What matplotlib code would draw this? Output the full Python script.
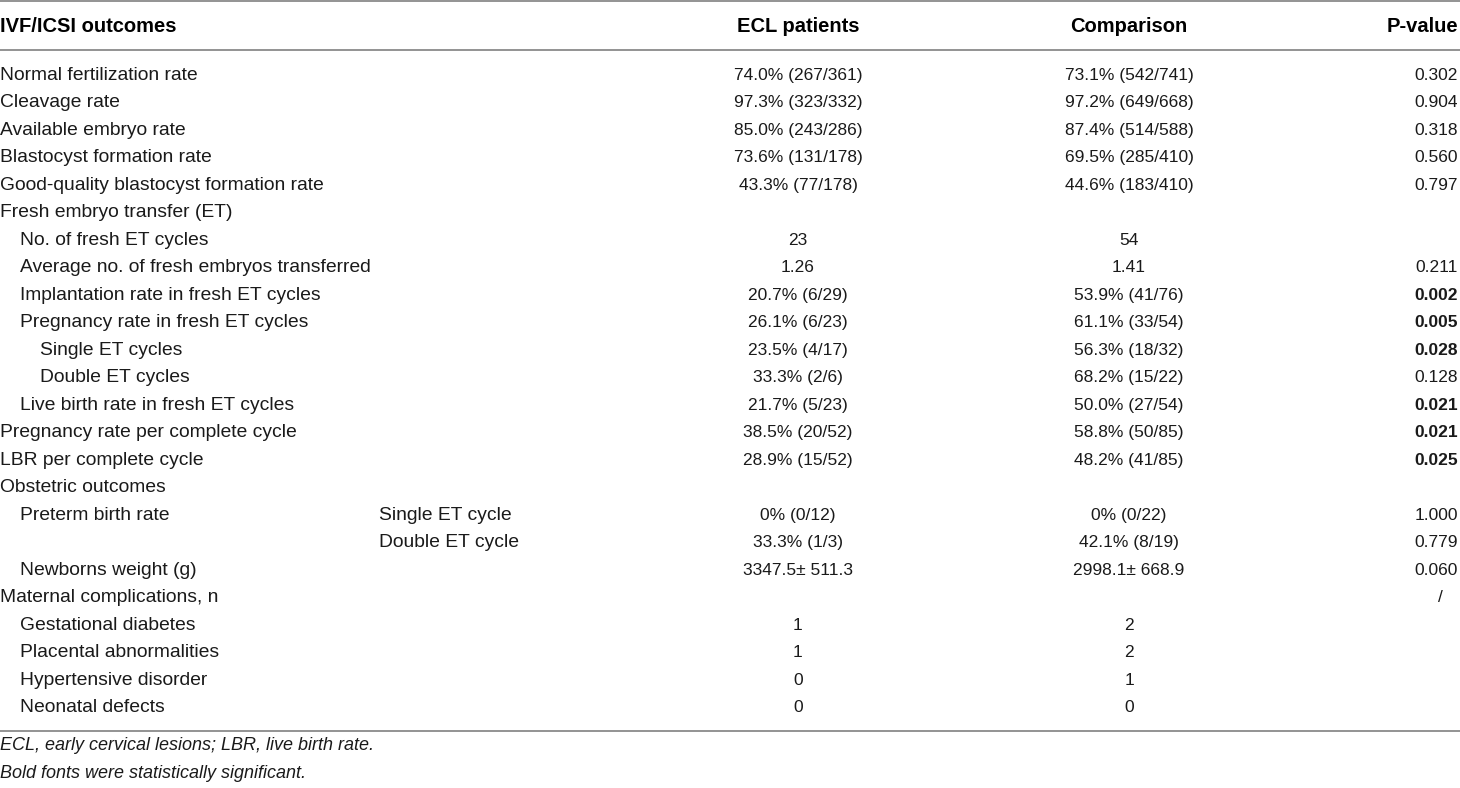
import matplotlib.pyplot as plt

plt.rcParams['font.family'] = ['Liberation Sans', 'DejaVu Sans']

headers = ['IVF/ICSI outcomes', 'ECL patients', 'Comparison', 'P-value']

# (label, indent level, sub-label)
labels = [
    ('Normal fertilization rate', 0, ''),
    ('Cleavage rate', 0, ''),
    ('Available embryo rate', 0, ''),
    ('Blastocyst formation rate', 0, ''),
    ('Good-quality blastocyst formation rate', 0, ''),
    ('Fresh embryo transfer (ET)', 0, ''),
    ('No. of fresh ET cycles', 1, ''),
    ('Average no. of fresh embryos transferred', 1, ''),
    ('Implantation rate in fresh ET cycles', 1, ''),
    ('Pregnancy rate in fresh ET cycles', 1, ''),
    ('Single ET cycles', 2, ''),
    ('Double ET cycles', 2, ''),
    ('Live birth rate in fresh ET cycles', 1, ''),
    ('Pregnancy rate per complete cycle', 0, ''),
    ('LBR per complete cycle', 0, ''),
    ('Obstetric outcomes', 0, ''),
    ('Preterm birth rate', 1, 'Single ET cycle'),
    ('', 1, 'Double ET cycle'),
    ('Newborns weight (g)', 1, ''),
    ('Maternal complications, n', 0, ''),
    ('Gestational diabetes', 1, ''),
    ('Placental abnormalities', 1, ''),
    ('Hypertensive disorder', 1, ''),
    ('Neonatal defects', 1, ''),
]

ecl = ['74.0% (267/361)', '97.3% (323/332)', '85.0% (243/286)', '73.6% (131/178)',
       '43.3% (77/178)', '', '23', '1.26', '20.7% (6/29)', '26.1% (6/23)',
       '23.5% (4/17)', '33.3% (2/6)', '21.7% (5/23)', '38.5% (20/52)',
       '28.9% (15/52)', '', '0% (0/12)', '33.3% (1/3)', '3347.5\u00b1 511.3',
       '', '1', '1', '0', '0']

comparison = ['73.1% (542/741)', '97.2% (649/668)', '87.4% (514/588)', '69.5% (285/410)',
              '44.6% (183/410)', '', '54', '1.41', '53.9% (41/76)', '61.1% (33/54)',
              '56.3% (18/32)', '68.2% (15/22)', '50.0% (27/54)', '58.8% (50/85)',
              '48.2% (41/85)', '', '0% (0/22)', '42.1% (8/19)', '2998.1\u00b1 668.9',
              '', '2', '2', '1', '0']

p_values = ['0.302', '0.904', '0.318', '0.560', '0.797', '', '', '0.211', '0.002',
            '0.005', '0.028', '0.128', '0.021', '0.021', '0.025', '', '1.000',
            '0.779', '0.060', '/', '', '', '', '']

significant = ['0.002', '0.005', '0.028', '0.021', '0.025']

footnotes = ['ECL, early cervical lesions; LBR, live birth rate.',
             'Bold fonts were statistically significant.']

fig = plt.figure(figsize=(14.6, 7.88), dpi=100)
ax = fig.add_axes([0, 0, 1, 1], frameon=False, xlim=[0, 1460], ylim=[788, 0],
                  xticks=[], yticks=[])

fs = 13.9      # words
fs_head = 14.5
fs_num = 12.5  # numbers (reference digits are a bit narrow)
fs_note = 13
txt = '#1a1a1a'
col_x = [0, 798, 1129, 1458]
line_color = '#808080'

# header
ax.text(col_x[0], 26, headers[0], fontsize=fs_head, fontweight='bold', va='center', ha='left')
ax.text(col_x[1], 26, headers[1], fontsize=fs_head, fontweight='bold', va='center', ha='center')
ax.text(col_x[2], 26, headers[2], fontsize=fs_head, fontweight='bold', va='center', ha='center')
ax.text(col_x[3], 26, headers[3], fontsize=fs_head, fontweight='bold', va='center', ha='right')

for y in [1, 50, 731]:
    ax.axhline(y, color=line_color, lw=1.2)

y0, dy = 75, 27.52
for i, (lab, lvl, sub) in enumerate(labels):
    y = y0 + i * dy
    ax.text(col_x[0] + lvl * 20, y, lab, fontsize=fs, va='center', ha='left', color=txt)
    if sub:
        ax.text(379, y, sub, fontsize=fs, va='center', ha='left', color=txt)
    ax.text(col_x[1], y, ecl[i], fontsize=fs_num, va='center', ha='center', color=txt)
    ax.text(col_x[2], y, comparison[i], fontsize=fs_num, va='center', ha='center', color=txt)
    pv = p_values[i]
    bold = pv in significant
    px = col_x[3] if pv != '/' else 1440
    ax.text(px, y, pv, fontsize=fs_num, va='center', ha='right' if pv != '/' else 'center',
            fontweight='bold' if bold else 'normal', color=txt)

for j, note in enumerate(footnotes):
    ax.text(0, 746 + j * 27, note, fontsize=fs_note, style='italic', va='center', ha='left',
            color=txt)

fig.savefig('out.png', dpi=100)
